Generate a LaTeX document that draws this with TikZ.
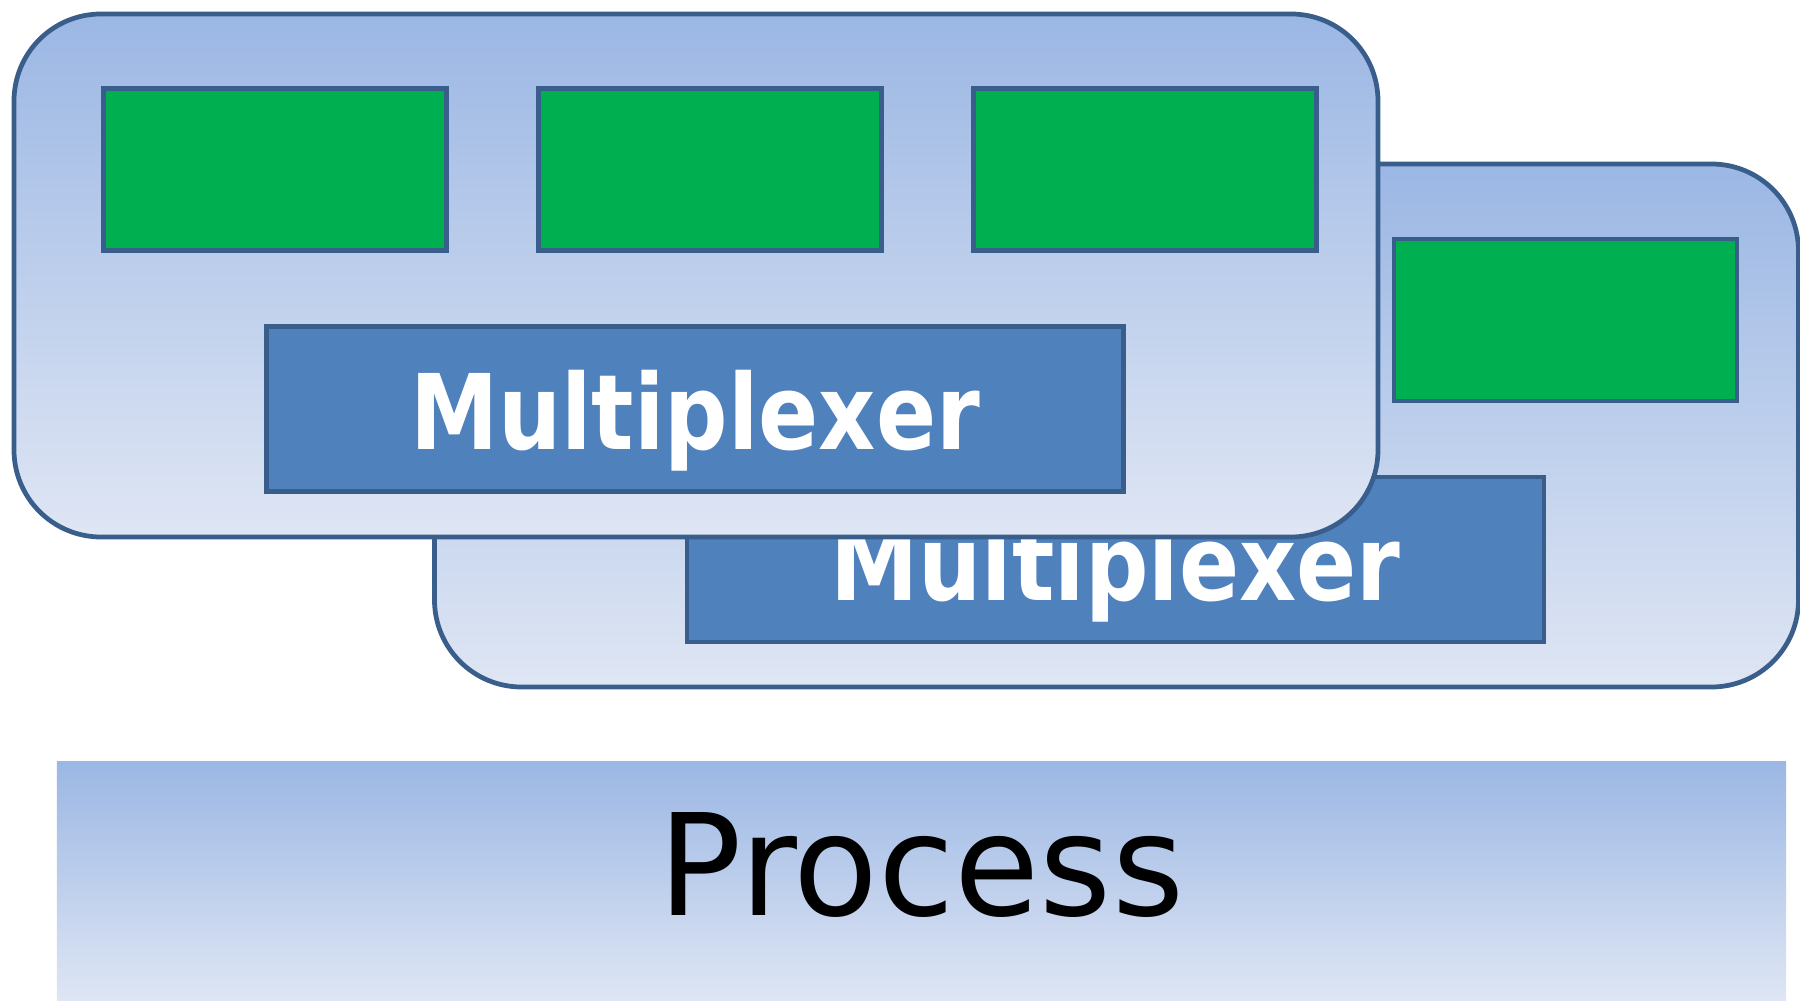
\documentclass[tikz,border=0pt]{standalone}
\usepackage{fontspec}
\newfontfamily\muxfont{DejaVu Sans}
\definecolor{boxtop}{RGB}{155,183,228}
\definecolor{boxbot}{RGB}{223,230,244}
\definecolor{frame}{RGB}{58,94,140}
\definecolor{cellgreen}{RGB}{0,176,80}
\definecolor{muxblue}{RGB}{79,129,189}

\begin{document}
\begin{tikzpicture}

\tikzset{card/.style={rectangle,rounded corners=0.87cm,minimum width=13.64cm,minimum height=5.23cm,draw=frame,line width=1.35pt,top color=boxtop,bottom color=boxbot},}
\tikzset{cell/.style={rectangle,minimum width=3.43cm,minimum height=1.62cm,draw=frame,line width=1.35pt,fill=cellgreen},}
\tikzset{mux/.style={rectangle,minimum width=8.57cm,minimum height=1.65cm,inner sep=0pt,draw=frame,line width=1.35pt,fill=muxblue,text=white,text height=1.0cm,text depth=0.18cm,font=\muxfont\bfseries\fontsize{29.7}{32}\selectfont},}
\tikzset{base/.style={rectangle,minimum width=17.29cm,minimum height=2.39cm,inner sep=0pt,top color=boxtop,bottom color=boxbot,text height=1.03cm,text depth=0.34cm,font=\muxfont\fontsize{40.2}{44}\selectfont},}

\useasboundingbox (0,0) rectangle (18,10.01);

%BACK
\draw (11.165,5.755) node [card] (card2) {};
\draw (15.655,6.81) node [cell] (cell23) {};
\draw (11.155,4.415) node [mux] (mux2) {\scalebox{0.85}[1]{Multiplexer}};

%FRONT
\draw (6.96,7.255) node [card] (card1) {};
\draw (2.75,8.315) node [cell] (cell11) {};
\draw (7.10,8.315) node [cell] (cell12) {};
\draw (11.45,8.315) node [cell] (cell13) {};
\draw (6.95,5.92) node [mux] (mux1) {\scalebox{0.85}[1]{Multiplexer}};

%PROCESS
\draw (9.215,1.195) node [base] (proc) {\scalebox{0.98}[1]{Process}};

\end{tikzpicture}
\end{document}
